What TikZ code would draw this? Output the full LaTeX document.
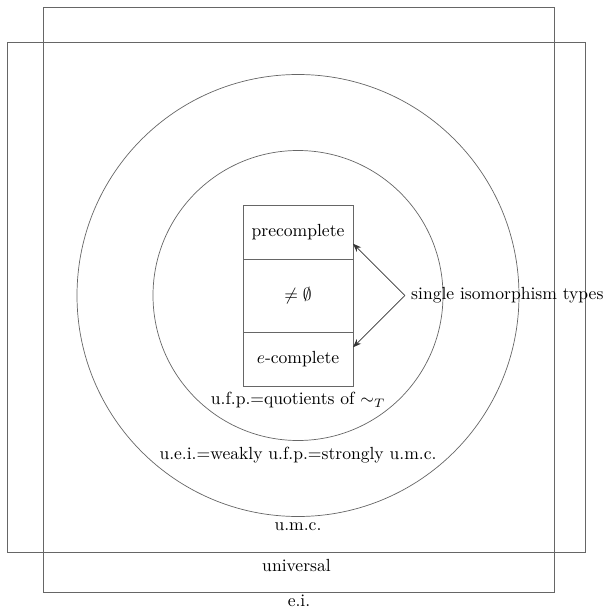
\documentclass[tikz,border=0pt]{standalone}
\usepackage{amsmath}
\usepackage{amssymb}
\usetikzlibrary{arrows.meta, positioning}
\begin{document}
\begin{tikzpicture}[>=Stealth,
  region/.style={draw=black!60, inner sep=0pt},
  cell/.style={draw=black!60, minimum width=2.2cm, inner sep=0pt, outer sep=0pt}]
  \useasboundingbox (-5.96,-6.29) rectangle (6.20,5.91);
  % Outer regions
  \node[region, minimum width=10.23cm, minimum height=11.7cm,
        label={[inner sep=1.5pt]below:e.i.}] (ei) at (0.02,-0.08) {};
  \node[region, minimum width=11.55cm, minimum height=10.21cm,
        label={below:universal}] (univ) at (-0.03,-0.04) {};
  \node[region, circle, minimum size=8.84cm,
        label={below:u.m.c.}] (umc) at (0,0) {};
  \node[region, circle, minimum size=5.8cm,
        label={below:u.e.i.=weakly u.f.p.=strongly u.m.c.}] (uei) at (0,0) {};
  % Central box
  \node[cell, minimum height=1.46cm] (neq) at (0,0) {$\neq\emptyset$};
  \node[cell, minimum height=1.08cm, above=0pt of neq] (pre) {precomplete};
  \node[cell, minimum height=1.08cm, below=0pt of neq,
        label={below:u.f.p.=quotients of $\sim_T$}] (ecomp) {$e$-complete};
  % Single isomorphism types
  \node[anchor=west] (single) at (2.14,0) {single isomorphism types};
  \draw[->, black!80] (single.west) -- (pre.-12);
  \draw[->, black!80] (single.west) -- (ecomp.12);
\end{tikzpicture}
\end{document}
